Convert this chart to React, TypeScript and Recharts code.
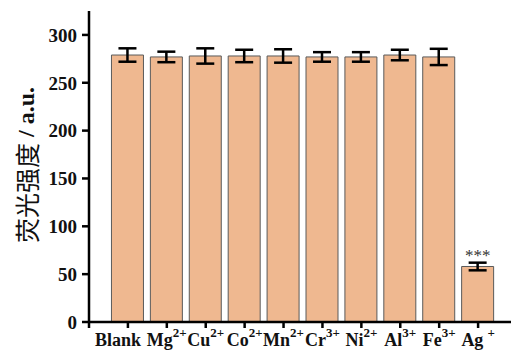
import { BarChart, Bar, XAxis, YAxis, ErrorBar, LabelList } from "recharts";

const ions = ["Blank", "Mg", "Cu", "Co", "Mn", "Cr", "Ni", "Al", "Fe", "Ag"];
const charges = ["", "2+", "2+", "2+", "2+", "3+", "2+", "3+", "3+", "+"];
const intensity = [279, 277, 278, 278, 278, 277, 277, 279, 277, 58];
const errors = [7, 5.5, 8, 6.5, 7, 5, 5, 5.5, 8.5, 4];
const marks = ["", "", "", "", "", "", "", "", "", "***"];
const yTicks = [0, 50, 100, 150, 200, 250, 300];

const data = ions.map((name, i) => ({
  pos: i + 1,
  name,
  value: intensity[i],
  err: errors[i],
  mark: marks[i],
}));

const xTicks = [0, ...data.map((d) => d.pos)];

const serif = "Liberation Serif, Times New Roman, serif";

function IonTick({ x, y, payload }: any) {
  const i = payload.value - 1;
  if (i < 0) return null;
  return (
    <text
      x={i === 0 ? x - 10 : x}
      y={y}
      dy={16}
      textAnchor="middle"
      style={{ fontFamily: serif, fontWeight: 700, fontSize: 18 }}
      fill="#111"
    >
      <tspan>{ions[i]}</tspan>
      {charges[i] && (
        <tspan dx={charges[i] === "+" ? 4 : 0} dy={-9} style={{ fontSize: 13 }}>
          {charges[i]}
        </tspan>
      )}
    </text>
  );
}

function YTitle() {
  return (
    <text
      x={26}
      y={165}
      transform="rotate(-90, 26, 165)"
      textAnchor="middle"
      dominantBaseline="central"
      fill="#111"
    >
      <tspan style={{ fontFamily: "Noto Sans CJK SC, sans-serif", fontSize: 25 }}>
        荧光强度
      </tspan>
      <tspan style={{ fontFamily: serif, fontWeight: 700, fontSize: 24 }}>
        {" / a.u."}
      </tspan>
    </text>
  );
}

export default function App() {
  return (
    <div
      style={{
        position: "absolute",
        left: 0,
        top: 0,
        width: 511,
        height: 351,
        overflow: "hidden",
        background: "#fff",
        fontFamily: serif,
      }}
    >
      <BarChart
        width={526}
        height={351}
        data={data}
        margin={{ top: 11, right: 8, bottom: 0, left: 0 }}
      >
        <XAxis
          dataKey="pos"
          type="number"
          domain={[0, 11]}
          ticks={xTicks}
          interval={0}
          height={29}
          tick={<IonTick />}
          tickSize={6}
          axisLine={{ stroke: "#000", strokeWidth: 2.5 }}
          tickLine={{ stroke: "#000", strokeWidth: 2.5 }}
        />
        <XAxis
          xAxisId="top"
          orientation="top"
          type="number"
          domain={[0, 11]}
          height={0}
          tick={false}
          tickLine={false}
          axisLine={{ stroke: "#000", strokeWidth: 2.5 }}
        />
        <YAxis
          domain={[0, 325]}
          ticks={yTicks}
          width={89}
          tickSize={7}
          tickMargin={5}
          interval={0}
          tick={{
            fill: "#111",
            style: { fontFamily: serif, fontWeight: 700, fontSize: 19 },
          }}
          axisLine={{ stroke: "#000", strokeWidth: 2.5 }}
          tickLine={{ stroke: "#000", strokeWidth: 2.5 }}
          label={<YTitle />}
        />
        <YAxis
          yAxisId="right"
          orientation="right"
          domain={[0, 325]}
          width={1}
          tick={false}
          tickLine={false}
          axisLine={{ stroke: "#000", strokeWidth: 2.5 }}
        />
        <Bar
          dataKey="value"
          barSize={32}
          fill="#EFB890"
          stroke="#5a5a5a"
          strokeWidth={1}
          isAnimationActive={false}
        >
          <ErrorBar
            dataKey="err"
            direction="y"
            width={9}
            stroke="#000"
            strokeWidth={2.5}
          />
          <LabelList
            dataKey="mark"
            position="top"
            offset={5}
            fill="#333"
            style={{ fontFamily: serif, fontSize: 17, fill: "#333" }}
          />
        </Bar>
      </BarChart>
    </div>
  );
}
